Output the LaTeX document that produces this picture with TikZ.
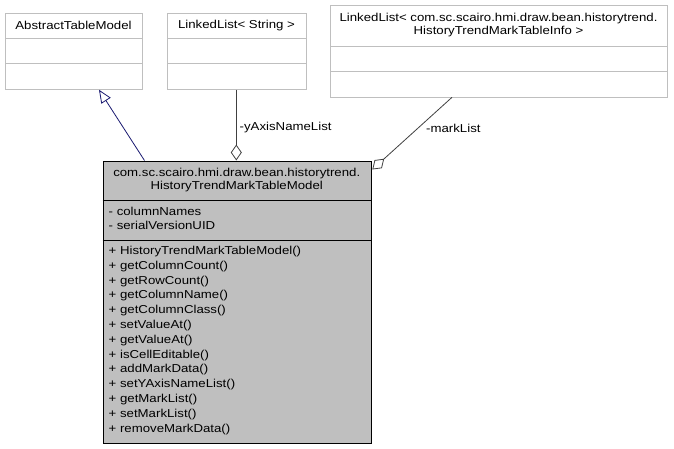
\documentclass[tikz,border=0pt]{standalone}
\usepackage{fontspec}
\setmainfont[FakeStretch=1.15]{Liberation Sans}
\usetikzlibrary{arrows.meta,calc}
\definecolor{boxline}{HTML}{BFBFBF}
\definecolor{classfill}{HTML}{BFBFBF}
\definecolor{assoc}{HTML}{404040}
\definecolor{inh}{HTML}{191970}
\tikzset{
  txt/.style={font=\fontsize{11.5}{13}\selectfont, inner sep=0pt},
  cls/.style={draw=boxline, fill=white, line width=0.8pt, anchor=north west, inner sep=0pt},
  maincls/.style={draw=black, fill=classfill, line width=0.8pt, anchor=north west, inner sep=0pt},
  inherit/.style={draw=inh, line width=0.8pt, -{Triangle[open, length=13pt, width=11pt, fill=white]}},
  aggr/.style={draw=assoc, line width=0.8pt, -{Diamond[open, length=16pt, width=11pt, fill=white]}},
  lbl/.style={font=\fontsize{11.5}{13}\selectfont, inner sep=0pt, anchor=west}
}
\begin{document}
\begin{tikzpicture}[x=1pt,y=-1pt]
\useasboundingbox (0,0) rectangle (674,448);

% AbstractTableModel
\node[cls, minimum width=137pt, minimum height=76pt] (atm) at (5,13) {};
\draw[boxline, line width=0.8pt] (5,38) -- (142,38) (5,63.5) -- (142,63.5);
\node[txt] (atmname) at (73.5,25.5) {AbstractTableModel};

% LinkedList< String >
\node[cls, minimum width=139pt, minimum height=76pt] (lls) at (167,13) {};
\draw[boxline, line width=0.8pt] (167,38) -- (306,38) (167,63.5) -- (306,63.5);
\node[txt] (llsname) at (236.5,25.5) {LinkedList< String >};

% LinkedList< ...HistoryTrendMarkTableInfo >
\node[cls, minimum width=337pt, minimum height=91.5pt] (llm) at (330,5) {};
\draw[boxline, line width=0.8pt] (330,46) -- (667,46) (330,71) -- (667,71);
\node[txt, align=center] (llmname) at (498.5,25.3) {LinkedList< com.sc.scairo.hmi.draw.bean.historytrend.\\HistoryTrendMarkTableInfo >};

% HistoryTrendMarkTableModel
\node[maincls, minimum width=268.5pt, minimum height=282pt] (main) at (102.5,160.5) {};
\draw[black, line width=0.8pt] (102.5,200) -- (371,200) (102.5,240) -- (371,240);
\node[txt, align=center] (mainname) at (236.75,180) {com.sc.scairo.hmi.draw.bean.historytrend.\\HistoryTrendMarkTableModel};
\node[txt, align=left, anchor=north west, font=\fontsize{11.5}{13.5}\selectfont] (attrs) at (108.5,207) {- columnNames\\- serialVersionUID};
\node[txt, align=left, anchor=north west, font=\fontsize{11.5}{14.8}\selectfont] (ops) at (108.5,246) {+ HistoryTrendMarkTableModel()\\+ getColumnCount()\\+ getRowCount()\\+ getColumnName()\\+ getColumnClass()\\+ setValueAt()\\+ getValueAt()\\+ isCellEditable()\\+ addMarkData()\\+ setYAxisNameList()\\+ getMarkList()\\+ setMarkList()\\+ removeMarkData()};

% connector end points on the class borders
\coordinate (inhfrom) at ($(main.north west)+(42,0)$);
\coordinate (inhto) at ($(atm.south west)+(94,0)$);
\coordinate (yfrom) at ($(lls.south west)+(69.3,0)$);
\coordinate (yto) at ($(main.north west)+(133.8,0)$);
\coordinate (mfrom) at ($(llm.south west)+(122,0)$);
\coordinate (mto) at ($(main.north east)+(0.5,9)$);

\draw[inherit] (inhfrom) -- (inhto);
\draw[aggr] (yfrom) -- (yto);
\draw[aggr] (mfrom) -- (mto);

\node[lbl] (ylabel) at (239.5,128) {-yAxisNameList};
\node[lbl] (mlabel) at (426,128) {-markList};
\end{tikzpicture}
\end{document}
